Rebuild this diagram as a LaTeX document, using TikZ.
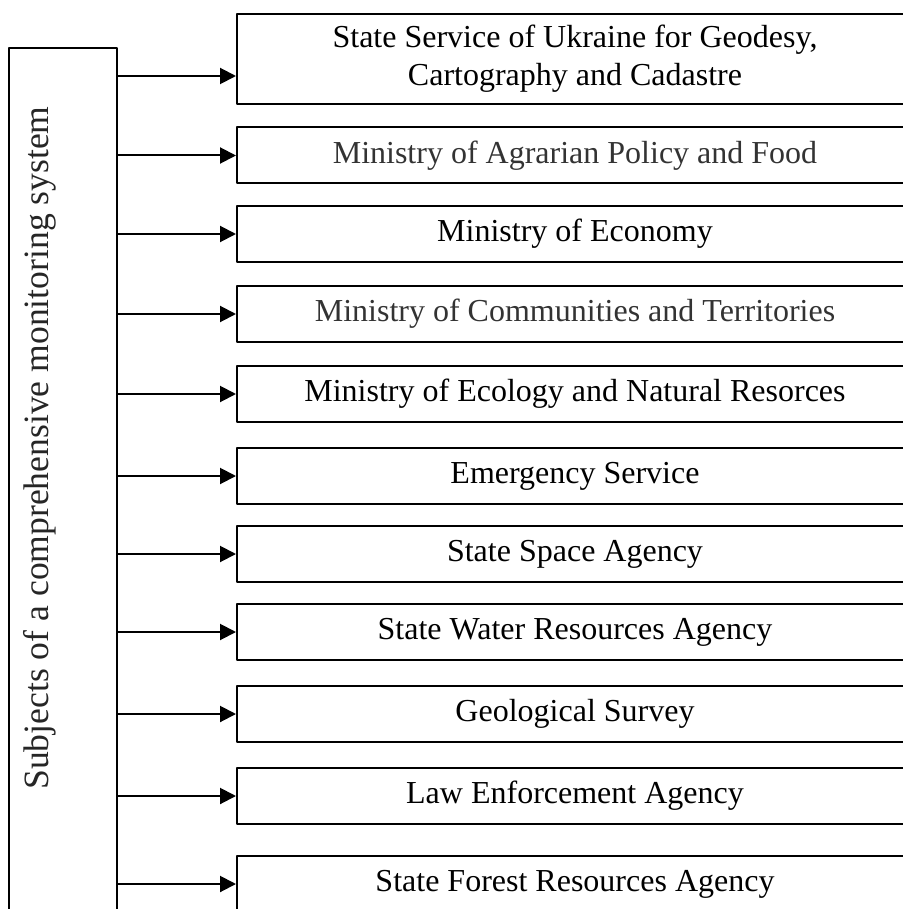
\documentclass[tikz,border=0pt]{standalone}
\usepackage{fontspec}
\setmainfont{Liberation Serif}
\usetikzlibrary{arrows.meta}
\begin{document}
\begin{tikzpicture}[x=0.5pt, y=-0.5pt, line join=round, >={Triangle[length=8pt,width=8pt]}, font=\fontsize{16}{19}\selectfont]
	\tikzset{org/.style={draw, line width=1pt, minimum width=338pt, minimum height=28pt, inner sep=0pt, align=center},
		link/.style={->, line width=1pt}}
	\useasboundingbox (0,0) rectangle (902,909);
	\node[draw, line width=1pt, minimum width=54pt, minimum height=456pt] (subj) at (63,504) {};
	\node[rotate=90, text=black!85, font=\fontsize{17.8}{21}\selectfont] (subjtxt) at (40,448) {Subjects of a comprehensive monitoring system};
	\node[org, minimum height=45pt] (b1) at (575,59) {State Service of Ukraine for Geodesy,\\Cartography and Cadastre};
	\node[org, text=black!80] (b2) at (575,155.5) {Ministry of Agrarian Policy and Food};
	\node[org] (b3) at (575,234) {Ministry of Economy};
	\node[org, text=black!80] (b4) at (575,314) {Ministry of Communities and Territories};
	\node[org] (b5) at (575,394) {Ministry of Ecology and Natural Resorces};
	\node[org] (b6) at (575,476) {Emergency Service};
	\node[org] (b7) at (575,554) {State Space Agency};
	\node[org] (b8) at (575,632) {State Water Resources Agency};
	\node[org] (b9) at (575,714) {Geological Survey};
	\node[org] (b10) at (575,796) {Law Enforcement Agency};
	\node[org] (b11) at (575,884) {State Forest Resources Agency};
	%arrows
	\coordinate (b1in) at ([yshift=-8.5pt]b1.west);
	\draw[link] (subj.east |- b1in) -- (b1in);
	\draw[link] (subj.east |- b2.west) -- (b2.west);
	\draw[link] (subj.east |- b3.west) -- (b3.west);
	\draw[link] (subj.east |- b4.west) -- (b4.west);
	\draw[link] (subj.east |- b5.west) -- (b5.west);
	\draw[link] (subj.east |- b6.west) -- (b6.west);
	\draw[link] (subj.east |- b7.west) -- (b7.west);
	\draw[link] (subj.east |- b8.west) -- (b8.west);
	\draw[link] (subj.east |- b9.west) -- (b9.west);
	\draw[link] (subj.east |- b10.west) -- (b10.west);
	\draw[link] (subj.east |- b11.west) -- (b11.west);
\end{tikzpicture}
\end{document}
